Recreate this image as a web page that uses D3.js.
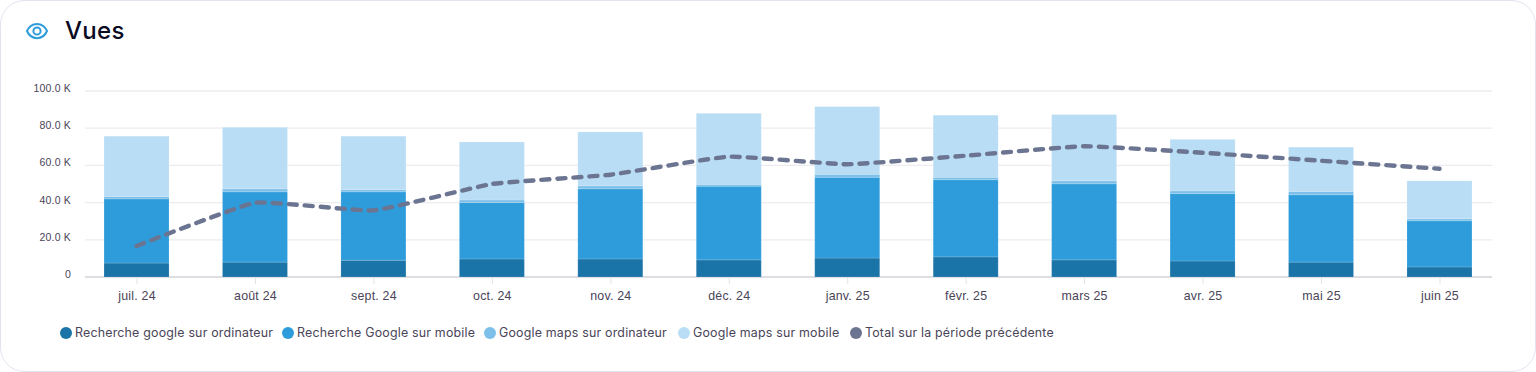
<!DOCTYPE html>
<html>
<head>
<meta charset="utf-8">
<script src="https://cdn.jsdelivr.net/npm/d3@7"></script>
<style>
    html, body { margin: 0; padding: 0; background: #ffffff; }
    svg { display: block; font-family: Inter, "Noto Sans", sans-serif; }
    .tick text { fill: #4a4458; letter-spacing: 0.2px; }
    .legend text { fill: #4a4458; font-size: 12.4px; letter-spacing: 0.2px; }
</style>
</head>
<body>
<div class="chart"></div>
<script>
const WIDTH = 1536;
const HEIGHT = 372;
const LEFT = 85;
const RIGHT = 1492;
const TOP = 91;
const BOTTOM = 277;

const months = ['juil. 24', 'août 24', 'sept. 24', 'oct. 24', 'nov. 24', 'déc. 24', 'janv. 25', 'févr. 25', 'mars 25', 'avr. 25', 'mai 25', 'juin 25'];
const desktopSearch = [7.5, 8, 9, 9.7, 9.7, 9.2, 10.2, 10.8, 9.2, 8.6, 8, 5.4];
const mobileSearch = [34.5, 37.8, 36.8, 30.3, 37.7, 39.6, 43.4, 41.5, 40.9, 36.2, 36.2, 24.8];
const desktopMaps = [1.3, 1.6, 1.2, 1.4, 1.6, 1, 1.6, 1.3, 1.6, 1.5, 1.8, 1.1];
const mobileMaps = [32.4, 33.1, 28.7, 31.2, 29, 38.2, 36.4, 33.4, 35.6, 27.7, 23.8, 20.4];
const previousTotal = [16.7, 39.9, 35.8, 50, 55, 64.7, 60.6, 65.2, 70.3, 66.8, 62.5, 58.2];
const yTicks = [0, 20, 40, 60, 80, 100];
const seriesNames = ['Recherche google sur ordinateur', 'Recherche Google sur mobile', 'Google maps sur ordinateur', 'Google maps sur mobile', 'Total sur la période précédente'];
const seriesColors = ['#1a74a8', '#2e9cdb', '#7cc0ea', '#b9ddf4', '#6b7490'];
const legendX = [66, 288, 490, 684, 856];

var xScale = d3.scalePoint().domain(months).range([LEFT, RIGHT - 1]).padding(0.435);
var yScale = d3.scaleLinear().domain([0, 100]).range([BOTTOM, TOP]);

var svg = d3.select('.chart').append('svg')
    .attr('width', WIDTH)
    .attr('height', HEIGHT);

// card
svg.append('rect')
    .attr('x', 0.5).attr('y', 0.5)
    .attr('width', WIDTH - 1).attr('height', HEIGHT - 1)
    .attr('rx', 24)
    .attr('fill', '#ffffff')
    .attr('stroke', '#e1e4f0');

// eye icon
var icon = svg.append('g')
    .attr('transform', 'translate(37,31)')
    .attr('fill', 'none')
    .attr('stroke', '#2e9cdb')
    .attr('stroke-width', 2);
icon.append('path').attr('d', 'M-10,0 C-6,-9.5 6,-9.5 10,0 C6,9.5 -6,9.5 -10,0 Z');
icon.append('circle').attr('r', 3.6);

svg.append('text')
    .attr('x', 65).attr('y', 39)
    .attr('font-size', 24)
    .attr('font-weight', 500)
    .attr('letter-spacing', 0.3)
    .attr('fill', '#0a0a23')
    .text('Vues');

function drawAxis() {
    var yAxis = d3.axisLeft(yScale)
        .tickValues(yTicks)
        .tickSize(0)
        .tickPadding(14)
        .tickFormat(function (d) { return d === 0 ? '0' : d.toFixed(1) + ' K'; });
    var yAxisG = svg.append('g').attr('transform', 'translate(' + LEFT + ',0)').call(yAxis);
    yAxisG.select('.domain').remove();
    yAxisG.selectAll('text').attr('font-size', 10.5).attr('font-family', 'inherit').attr('dy', '0.05em');

    svg.append('g').selectAll('line').data(yTicks).enter().append('line')
        .attr('x1', LEFT).attr('x2', RIGHT)
        .attr('y1', function (d) { return yScale(d); })
        .attr('y2', function (d) { return yScale(d); })
        .attr('stroke', function (d) { return d === 0 ? '#dedee2' : '#ececef'; })
        .attr('stroke-width', function (d) { return d === 0 ? 2 : 1.3; });

    var xAxis = d3.axisBottom(xScale).tickSize(6).tickPadding(7);
    var xAxisG = svg.append('g').attr('transform', 'translate(0,' + (BOTTOM + 1) + ')').call(xAxis);
    xAxisG.select('.domain').remove();
    xAxisG.selectAll('line').attr('stroke', '#e3e3e6');
    xAxisG.selectAll('text').attr('font-size', 12.4).attr('font-family', 'inherit');
}

function drawBars() {
    var rows = months.map(function (m, i) {
        return { month: m, a: desktopSearch[i], b: mobileSearch[i], c: desktopMaps[i], d: mobileMaps[i] };
    });
    var stacked = d3.stack().keys(['a', 'b', 'c', 'd'])(rows);
    svg.append('g').selectAll('g').data(stacked).enter().append('g')
        .attr('fill', function (d, i) { return seriesColors[i]; })
        .selectAll('rect').data(function (d) { return d; }).enter().append('rect')
        .attr('x', function (d) { return xScale(d.data.month) - 32.5; })
        .attr('width', 65)
        .attr('y', function (d) { return yScale(d[1]); })
        .attr('height', function (d) { return yScale(d[0]) - yScale(d[1]); })
        .attr('stroke', '#ffffff')
        .attr('stroke-opacity', 0.15)
        .attr('stroke-width', 1);
}

function drawLine() {
    var line = d3.line()
        .x(function (d, i) { return xScale(months[i]); })
        .y(function (d) { return yScale(d); })
        .curve(d3.curveCardinal.tension(0.65));
    svg.append('path')
        .attr('d', line(previousTotal))
        .attr('fill', 'none')
        .attr('stroke', seriesColors[4])
        .attr('stroke-width', 4.4)
        .attr('stroke-dasharray', '8 8')
        .attr('stroke-linecap', 'round');
}

function drawLegend() {
    var item = svg.append('g').attr('class', 'legend').selectAll('g').data(seriesNames).enter().append('g')
        .attr('transform', function (d, i) { return 'translate(' + legendX[i] + ',333)'; });
    item.append('circle').attr('r', 6).attr('fill', function (d, i) { return seriesColors[i]; });
    item.append('text').attr('x', 9).attr('dy', '0.35em').text(function (d) { return d; });
}

drawAxis();
drawBars();
drawLine();
drawLegend();
</script>
</body>
</html>
